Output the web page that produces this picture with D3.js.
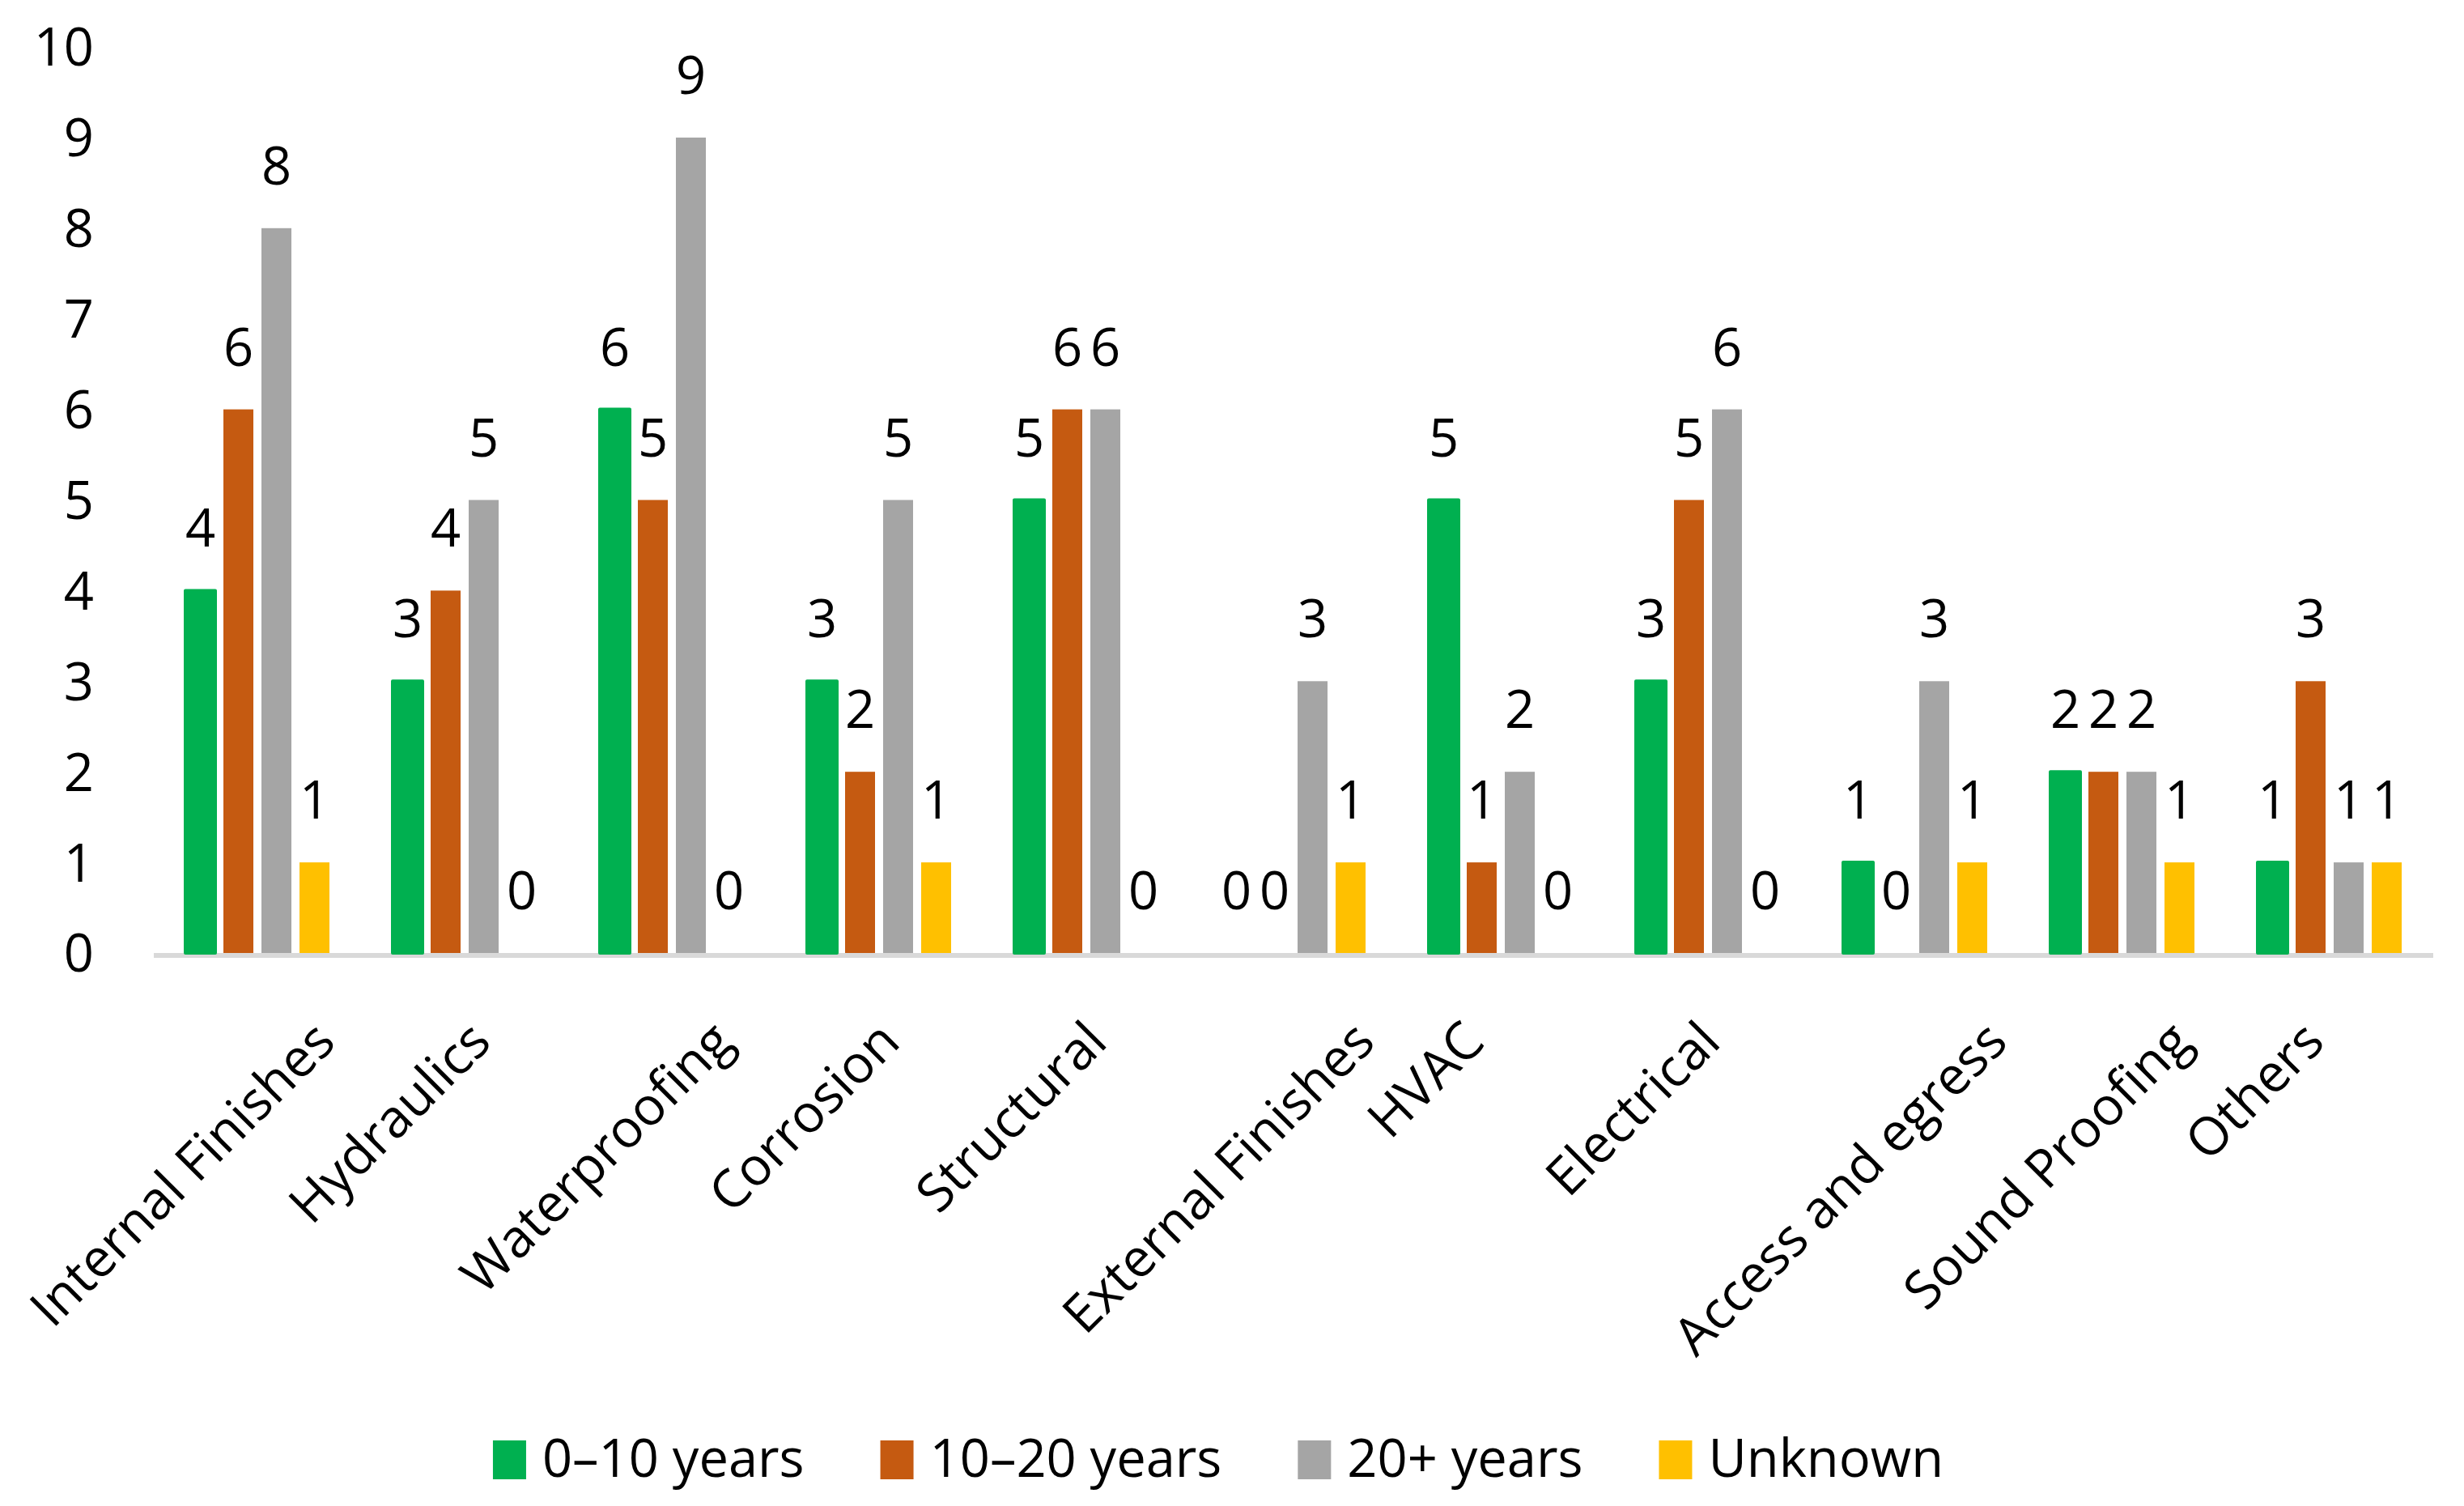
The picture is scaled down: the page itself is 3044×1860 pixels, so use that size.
<!DOCTYPE html>
<html>
<head>
<meta charset="utf-8">
<script src="https://cdn.jsdelivr.net/npm/d3@7"></script>
<style>
  html, body { margin: 0; padding: 0; background: #ffffff; }
  svg text { font-family: "Open Sans", "Noto Sans", sans-serif; fill: #000; }
</style>
</head>
<body>
<svg id="chart" width="3044" height="1860"></svg>
<script>
const categories = ["Internal Finishes", "Hydraulics", "Waterproofing", "Corrosion", "Structural",
  "External Finishes", "HVAC", "Electrical", "Access and egress", "Sound Proofing", "Others"];
const seriesNames = ["0–10 years", "10–20 years", "20+ years", "Unknown"];
const years0to10  = [4, 3, 6, 3, 5, 0, 5, 3, 1, 2, 1];
const years10to20 = [6, 4, 5, 2, 6, 0, 1, 5, 0, 2, 3];
const years20plus = [8, 5, 9, 5, 6, 3, 2, 6, 3, 2, 1];
const unknown     = [1, 0, 0, 1, 0, 1, 0, 0, 1, 1, 1];
const yTicks = [0, 1, 2, 3, 4, 5, 6, 7, 8, 9, 10];
const colors = ["#00B050", "#C55A11", "#A5A5A5", "#FFC000"];

const seriesValues = [years0to10, years10to20, years20plus, unknown];
const rows = categories.map((c, i) => ({
  category: c,
  values: seriesNames.map((s, j) => ({ series: s, idx: j, value: seriesValues[j][i] }))
}));

const svg = d3.select("#chart");
const FONT = 65;

const x0 = d3.scaleBand().domain(categories).range([190, 3006]).padding(0);
const groupW = 178;
const x1 = d3.scaleBand().domain(seriesNames).range([0, groupW]).paddingInner(10 / 47);
const y = d3.scaleLinear().domain([0, 10]).range([1177, 58]);

// y tick labels
svg.append("g").selectAll("text").data(yTicks).join("text")
  .attr("x", 116).attr("y", d => y(d))
  .attr("dy", "0.36em")
  .attr("text-anchor", "end")
  .style("font-size", FONT + "px")
  .text(d => d);

// axis line
svg.append("line")
  .attr("x1", x0.range()[0]).attr("x2", x0.range()[1])
  .attr("y1", y(0) + 3).attr("y2", y(0) + 3)
  .attr("stroke", "#D9D9D9").attr("stroke-width", 6);

// bars
const groups = svg.append("g").selectAll("g").data(rows).join("g")
  .attr("transform", d => `translate(${x0(d.category) + (x0.bandwidth() - groupW) / 2},0)`);

groups.selectAll("rect").data(d => d.values.filter(v => v.value > 0)).join("rect")
  .attr("x", d => x1(d.series))
  .attr("y", d => y(d.value))
  .attr("width", x1.bandwidth())
  .attr("height", d => y(0) - y(d.value))
  .attr("fill", d => colors[d.idx])
  .attr("stroke", d => d.idx === 0 ? colors[0] : "none")
  .attr("stroke-width", d => d.idx === 0 ? 4 : 0)
  .attr("stroke-linejoin", "round");

// data labels
groups.selectAll("text").data(d => d.values).join("text")
  .attr("x", d => x1(d.series) + x1.bandwidth() / 2)
  .attr("y", d => y(d.value) - 54)
  .attr("text-anchor", "middle")
  .style("font-size", FONT + "px")
  .text(d => d.value);

// category labels rotated -45
const c45 = Math.SQRT1_2;
const capH = 0.714 * FONT;
const catG = svg.append("g");
categories.forEach(cat => {
  const t = catG.append("text")
    .attr("text-anchor", "middle")
    .style("font-size", FONT + "px")
    .text(cat);
  const L = t.node().getComputedTextLength();
  const xa = x0(cat) + x0.bandwidth() / 2 - 77;
  const ya = 1257 + c45 * (L / 2 + capH);
  t.attr("transform", `translate(${xa},${ya}) rotate(-45)`);
});

// legend
const legend = svg.append("g");
let lx = 0;
const items = [];
seriesNames.forEach((s, i) => {
  const g = legend.append("g");
  g.append("rect").attr("x", 0).attr("y", 1779).attr("width", 41).attr("height", 48).attr("fill", colors[i]);
  const t = g.append("text").attr("x", 61).attr("y", 1824).style("font-size", FONT + "px").text(s);
  const w = t.node().getComputedTextLength();
  items.push({ g, w });
});
let total = 0;
items.forEach((it, i) => { total += 61 + it.w + (i < items.length - 1 ? 94 : 0); });
let start = 1505 - total / 2;
items.forEach(it => {
  it.g.attr("transform", `translate(${start},0)`);
  start += 61 + it.w + 94;
});
</script>
</body>
</html>
